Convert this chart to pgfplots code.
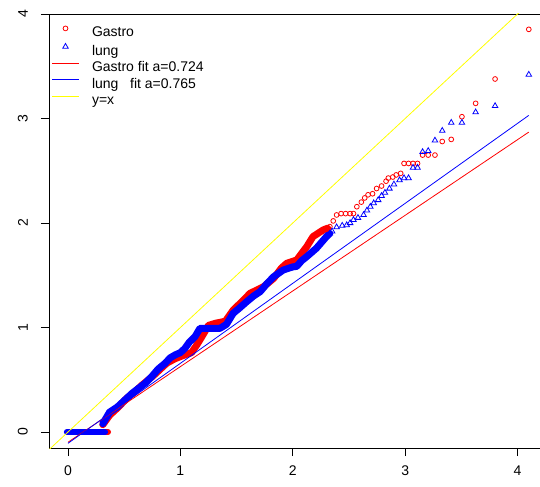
\documentclass[border=0pt]{standalone}
\usepackage{pgfplots}
\pgfplotsset{compat=1.18}
\usepackage{fontspec}
\setmainfont{Liberation Sans}
\definecolor{rred}{RGB}{255,0,0}
\definecolor{rblue}{RGB}{0,0,255}
\definecolor{ryellow}{RGB}{255,255,0}
\pgfplotsset{
 legred/.style={legend image code/.code={\fill[fill=rred, draw=none] (0bp,4.6bp) rectangle (27.6bp,5.4bp);}},
 legblue/.style={legend image code/.code={\fill[fill=rblue, draw=none] (0bp,4.6bp) rectangle (27.6bp,5.4bp);}},
 legyel/.style={legend image code/.code={\fill[fill=ryellow, draw=none] (0bp,4.6bp) rectangle (27.6bp,5.4bp);}},
 legmk/.style={legend image code/.code={\draw[##1] plot coordinates {(13.8bp,5bp)};}},
}
\begin{document}
\begin{tikzpicture}
\path[use as bounding box] (-49bp,-39bp) rectangle (491bp,448bp);
\begin{axis}[
 at={(0bp,0bp)}, anchor=south west,
 scale only axis, width=498bp, height=434bp,
 xmin=-0.169, xmax=4.262, ymin=-0.153, ymax=4.0,
 xtick={0,1,2,3,4}, ytick={0,1,2,3,4},
 xtick pos=bottom, ytick pos=left,
 tick align=outside, major tick length=8bp,
 every tick/.style={black, line width=0.8bp},
 axis line style={black, line width=0.8bp},
 ticklabel style={font=\fontsize{14bp}{16bp}\selectfont},
 /pgf/number format/assume math mode=true,
 yticklabel style={xshift=-13bp, rotate=90, anchor=south, inner sep=0pt},
 xticklabel style={yshift=-10bp, anchor=north, inner sep=0pt},
 legend style={at={(axis description cs:0,1)}, anchor=north west, xshift=2.7bp, yshift=-12bp,
   draw=none, fill=none, inner sep=0pt, outer sep=0pt, row sep=3.6bp,
   font=\fontsize{14bp}{16bp}\selectfont,
   nodes={inner sep=0pt, text height=10bp, text depth=3bp},
   /tikz/every odd column/.append style={column sep=12.7bp}},
 legend cell align=left,
]
% Gastro dense part
\addplot[forget plot, rred, line width=6bp, line cap=round, line join=round] coordinates {(0.0,0.0) (0.356,0.0)};
\addplot[forget plot, rred, line width=7bp, line cap=round, line join=round] coordinates {
(0.31,0.07) (0.37,0.16) (0.45,0.24) (0.52,0.32) (0.60,0.39) (0.66,0.45) (0.75,0.53)
(0.82,0.60) (0.88,0.66) (0.95,0.70) (1.02,0.73) (1.10,0.76) (1.15,0.84) (1.19,0.91)
(1.25,1.02) (1.31,1.04) (1.40,1.06) (1.47,1.167) (1.55,1.25) (1.62,1.327) (1.74,1.39)
(1.83,1.47) (1.90,1.57) (1.946,1.614) (2.035,1.646) (2.124,1.773) (2.18,1.87) (2.27,1.933) (2.31,1.95)};
% Gastro sparse points
\addplot[only marks, mark=o, color=rred, mark size=2.4bp, line width=0.8bp, legmk] coordinates {
(2.30,1.94) (2.33,1.965) (2.36,2.02) (2.39,2.077) (2.43,2.09) (2.47,2.09) (2.51,2.09) (2.54,2.09)
(2.57,2.156) (2.61,2.20) (2.64,2.24) (2.67,2.27) (2.71,2.28) (2.746,2.33) (2.79,2.354)
(2.83,2.40) (2.85,2.43) (2.89,2.44) (2.92,2.46) (2.96,2.475) (2.99,2.57) (3.03,2.57)
(3.07,2.57) (3.11,2.57) (3.155,2.65) (3.205,2.65) (3.265,2.65) (3.33,2.78) (3.41,2.80)
(3.505,3.017) (3.627,3.145) (3.80,3.378) (4.10,3.853)};
\addlegendentry{Gastro}

% lung dense part
\addplot[forget plot, rblue, line width=6bp, line cap=round, line join=round] coordinates {(-0.01,0.0) (0.33,0.0)};
\addplot[forget plot, rblue, line width=7bp, line cap=round, line join=round] coordinates {
(0.31,0.08) (0.37,0.19) (0.44,0.24) (0.51,0.31) (0.57,0.37) (0.63,0.42) (0.69,0.47)
(0.745,0.53) (0.80,0.60) (0.863,0.657) (0.91,0.71) (0.952,0.737) (1.00,0.76) (1.04,0.80)
(1.08,0.86) (1.13,0.912) (1.174,0.992) (1.352,0.992) (1.41,1.03) (1.47,1.136) (1.53,1.19)
(1.59,1.247) (1.65,1.30) (1.71,1.343) (1.77,1.42) (1.83,1.486) (1.915,1.55) (2.00,1.58)
(2.035,1.585) (2.08,1.64) (2.124,1.678) (2.21,1.758) (2.30,1.87) (2.33,1.90)};
% lung sparse points
\addplot[only marks, mark=triangle, color=rblue, mark size=3.2bp, line width=0.8bp, legmk] coordinates {
(2.33,1.90) (2.35,1.92) (2.39,1.96) (2.44,1.975) (2.48,1.98) (2.51,2.0) (2.54,2.03) (2.58,2.05)
(2.63,2.077) (2.66,2.12) (2.69,2.156) (2.72,2.19) (2.76,2.22) (2.79,2.26) (2.82,2.29)
(2.86,2.33) (2.90,2.37) (2.95,2.41) (2.99,2.43) (3.03,2.43) (3.07,2.53) (3.11,2.53)
(3.155,2.68) (3.205,2.69) (3.265,2.79) (3.33,2.883) (3.41,2.96) (3.505,2.96)
(3.627,3.06) (3.80,3.12) (4.10,3.42)};
\addlegendentry{lung}

% fits
\addplot[color=rred, line width=0.8bp, mark=none, legred] coordinates {(0,-0.098) (4.10,2.87)};
\addlegendentry{Gastro fit a=0.724}
\addplot[color=rblue, line width=0.8bp, mark=none, legblue] coordinates {(0,-0.108) (4.10,3.03)};
\addlegendentry{lung\ \ \ fit a=0.765}
\addplot[color=ryellow, line width=0.8bp, mark=none, legyel] coordinates {(-0.2,-0.2) (4.3,4.3)};
\addlegendentry{y=x}
\end{axis}
\end{tikzpicture}
\end{document}
